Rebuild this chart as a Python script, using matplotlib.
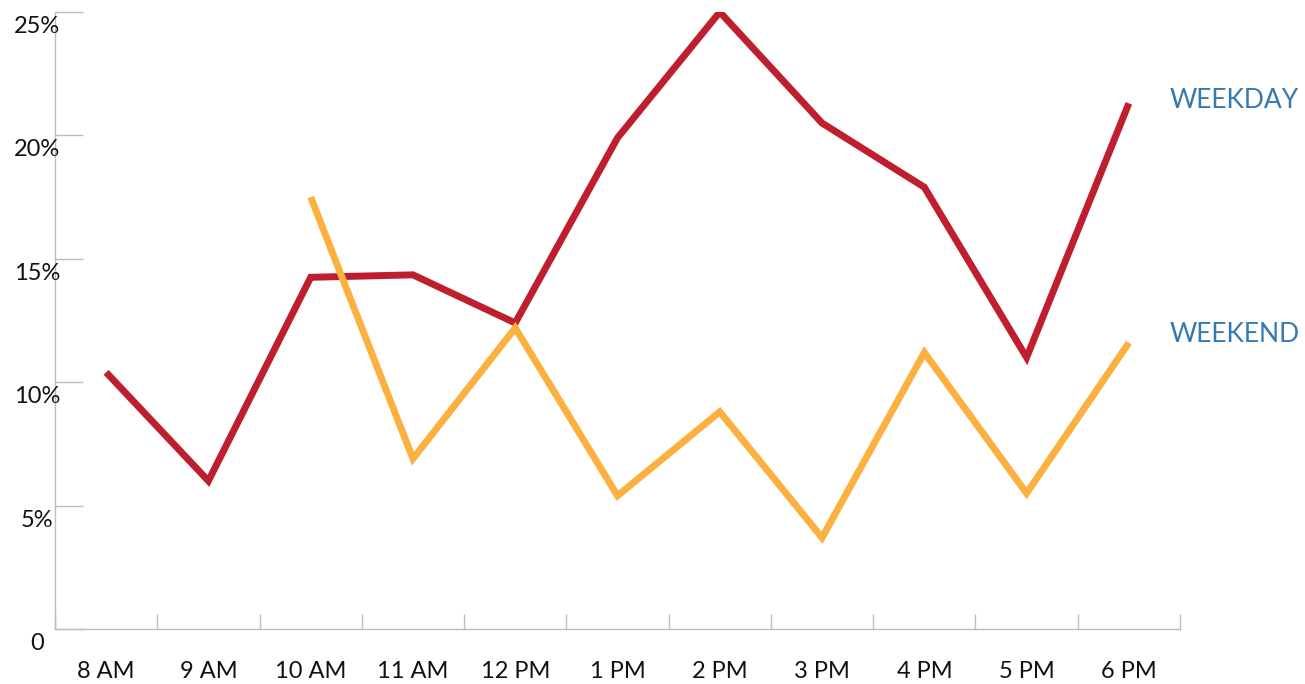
import numpy as np
import matplotlib
matplotlib.use("Agg")
import matplotlib.pyplot as plt

plt.rcParams['font.family'] = ['Lato', 'DejaVu Sans']

hours = ["8 AM", "9 AM", "10 AM", "11 AM", "12 PM", "1 PM", "2 PM", "3 PM", "4 PM", "5 PM", "6 PM"]
weekday = [10.4, 6.0, 14.25, 14.35, 12.4, 19.9, 25.0, 20.5, 17.9, 11.0, 21.3]
weekend = [np.nan, np.nan, 17.5, 6.9, 12.2, 5.4, 8.8, 3.7, 11.2, 5.5, 11.6]
yticks = [0, 5, 10, 15, 20, 25]
ytick_labels = ["0", "5%", "10%", "15%", "20%", "25%"]

RED = "#BE1E2D"
ORANGE = "#FBB040"
BLUE = "#3579B1"
GRAY = "#BDBDBD"

fig = plt.figure(figsize=(13.05, 6.84), dpi=100)
ax = fig.add_axes([55/1305, 1-629/684, (1180-55)/1305, (629-12)/684])

x = np.arange(len(hours))
ax.plot(x, weekday, color=RED, lw=5, solid_joinstyle='miter', solid_capstyle='butt')
ax.plot(x, weekend, color=ORANGE, lw=5, solid_joinstyle='miter', solid_capstyle='butt')

ax.set_xlim(-0.5, len(hours) - 0.5)
ax.set_ylim(0, 25)

for s in ['top', 'right']:
    ax.spines[s].set_visible(False)
for s in ['left', 'bottom']:
    ax.spines[s].set_color(GRAY)
    ax.spines[s].set_linewidth(1)

# y ticks: inward short lines, labels drawn manually below each tick
ax.set_yticks(yticks)
ax.set_yticklabels([])
ax.tick_params(axis='y', direction='in', length=20, width=1, color=GRAY)
for v, lab in zip(yticks, ytick_labels):
    ax.annotate(lab, xy=(0, v), xycoords=('axes fraction', 'data'),
                xytext=(-18, -4), textcoords='offset pixels',
                ha='center', va='top', fontsize=17, color='#111111')

# x ticks at category boundaries, labels at centres
ax.set_xticks(np.arange(-0.5, len(hours), 1.0))
ax.set_xticklabels([])
ax.set_xticks(x, minor=True)
ax.set_xticklabels(hours, minor=True, fontsize=17, color='#111111')
ax.tick_params(axis='x', which='major', direction='in', length=11, width=1, color=GRAY)
ax.tick_params(axis='x', which='minor', length=0, pad=23)

# series labels
ax.annotate("WEEKDAY", xy=(x[-1], weekday[-1]), xytext=(41, 3), textcoords='offset pixels',
            ha='left', va='center', fontsize=19, color=BLUE, annotation_clip=False)
ax.annotate("WEEKEND", xy=(x[-1], weekend[-1]), xytext=(41, 8), textcoords='offset pixels',
            ha='left', va='center', fontsize=19, color=BLUE, annotation_clip=False)

fig.savefig("out.png", dpi=100)
